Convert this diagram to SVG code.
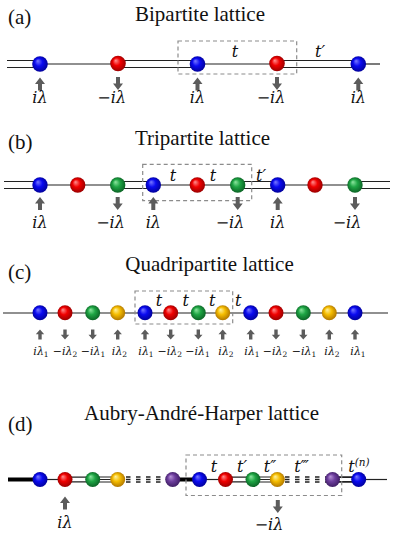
<svg xmlns="http://www.w3.org/2000/svg" xmlns:xlink="http://www.w3.org/1999/xlink" width="395" height="552" viewBox="0 0 395 552">
<style>
.title{font-family:"Liberation Serif",serif;font-size:21px;fill:#111;text-anchor:middle}
.plabel{font-family:"Liberation Serif",serif;font-size:21px;fill:#111}
.m{font-family:"DejaVu Serif",serif;font-style:italic;font-size:16px;fill:#111;text-anchor:middle}
.ms{font-family:"DejaVu Serif",serif;font-style:italic;font-size:11px;fill:#111;text-anchor:middle}
.sub{font-style:normal;font-size:7.5px}
.ln{stroke:#222;stroke-width:1.2;fill:none}
.thick{stroke:#000;stroke-width:4;fill:none}
.dsh{stroke:#222;stroke-width:1.3;fill:none;stroke-dasharray:4.5,5.5}
.box{fill:none;stroke:#8c8c8c;stroke-width:1.2;stroke-dasharray:4,3}
.arr{fill:#5c5c5c}
.b{fill:url(#gb)}.r{fill:url(#gr)}.g{fill:url(#gg)}.y{fill:url(#gy)}.p{fill:url(#gp)}
</style>
<defs>
<radialGradient id="gb" cx="0.5" cy="0.5" r="0.55" fx="0.35" fy="0.3"><stop offset="0" stop-color="#7a7aff"/><stop offset="0.45" stop-color="#0a0af0"/><stop offset="1" stop-color="#000090"/></radialGradient>
<radialGradient id="gr" cx="0.5" cy="0.5" r="0.55" fx="0.35" fy="0.3"><stop offset="0" stop-color="#ff9090"/><stop offset="0.45" stop-color="#f00000"/><stop offset="1" stop-color="#900000"/></radialGradient>
<radialGradient id="gg" cx="0.5" cy="0.5" r="0.55" fx="0.35" fy="0.3"><stop offset="0" stop-color="#8ee6a0"/><stop offset="0.45" stop-color="#1ea544"/><stop offset="1" stop-color="#0a5c22"/></radialGradient>
<radialGradient id="gy" cx="0.5" cy="0.5" r="0.55" fx="0.35" fy="0.3"><stop offset="0" stop-color="#fff2a0"/><stop offset="0.45" stop-color="#f5bd00"/><stop offset="1" stop-color="#a86e00"/></radialGradient>
<radialGradient id="gp" cx="0.5" cy="0.5" r="0.55" fx="0.35" fy="0.3"><stop offset="0" stop-color="#b895d8"/><stop offset="0.45" stop-color="#6e3f9e"/><stop offset="1" stop-color="#3a1a5e"/></radialGradient>
<path id="up" class="arr" d="M0,0 L5,6.5 L2,6.5 L2,13 L-2,13 L-2,6.5 L-5,6.5 Z"/>
<path id="dn" class="arr" d="M0,13 L5,6.5 L2,6.5 L2,0 L-2,0 L-2,6.5 L-5,6.5 Z"/>
<path id="ups" class="arr" d="M0,0 L4.2,4.8 L1.7,4.8 L1.7,10 L-1.7,10 L-1.7,4.8 L-4.2,4.8 Z"/>
<path id="dns" class="arr" d="M0,10 L4.2,5.2 L1.7,5.2 L1.7,0 L-1.7,0 L-1.7,5.2 L-4.2,5.2 Z"/>
</defs>
<rect width="395" height="552" fill="#fff"/>

<!-- Titles -->
<text class="plabel" x="8" y="24">(a)</text>
<text class="title" x="200" y="21">Bipartite lattice</text>
<text class="plabel" x="8" y="149">(b)</text>
<text class="title" x="202.5" y="145">Tripartite lattice</text>
<text class="plabel" x="8" y="279">(c)</text>
<text class="title" x="209.5" y="271">Quadripartite lattice</text>
<text class="plabel" x="8" y="431">(d)</text>
<text class="title" x="201.5" y="420">Aubry-André-Harper lattice</text>

<!-- Connectors -->
<g id="connectors">
 <!-- (a) -->
 <path class="ln" d="M7,60.5H40M7,67.5H40"/>
 <path class="ln" d="M40,64H118"/>
 <path class="ln" d="M118,60.5H198M118,67.5H198"/>
 <path class="ln" d="M198,64H277"/>
 <path class="ln" d="M277,60.5H358M277,67.5H358"/>
 <path class="ln" d="M358,64H380"/>
 <!-- (b) -->
 <path class="ln" d="M4,181.5H40M4,188.5H40"/>
 <path class="ln" d="M40,185H118"/>
 <path class="ln" d="M118,181.5H153M118,188.5H153"/>
 <path class="ln" d="M153,185H238"/>
 <path class="ln" d="M238,181.5H278M238,188.5H278"/>
 <path class="ln" d="M278,185H355"/>
 <path class="ln" d="M355,181.5H390M355,188.5H390"/>
 <!-- (c) -->
 <path class="ln" d="M3,313H388"/>
 <!-- (d) -->
 <path class="thick" d="M8,479.5H40"/>
 <path class="ln" d="M40,479.5H65"/>
 <path class="ln" d="M65,477.2H93M65,481.8H93"/>
 <path class="ln" style="stroke-width:1" d="M93,477H118M93,479.5H118M93,482H118"/>
 <path class="dsh" d="M126,477H168M126,479.5H168M126,482H168"/>
 <path class="thick" d="M173,479.5H199"/>
 <path class="ln" d="M199,479.5H225"/>
 <path class="ln" d="M225,477.2H253M225,481.8H253"/>
 <path class="ln" style="stroke-width:1" d="M253,477H277M253,479.5H277M253,482H277"/>
 <path class="dsh" d="M285,477H327M285,479.5H327M285,482H327"/>
 <path class="ln" style="stroke-width:1.8" d="M333,477.2H359M333,481.8H359"/>
 <path class="ln" d="M359,479.5H387"/>
</g>

<!-- Unit-cell boxes -->
<rect class="box" x="178" y="41" width="118.7" height="33"/>
<rect class="box" x="142.7" y="164.3" width="109" height="36.4"/>
<rect class="box" x="135" y="291" width="97.7" height="33"/>
<rect class="box" x="186" y="455" width="155.7" height="40.5"/>

<!-- Nodes (a) -->
<g id="a-n1"><circle class="b" cx="40" cy="64" r="7.8"/></g>
<g id="a-n2"><circle class="r" cx="118" cy="63.5" r="7.8"/></g>
<g id="a-n3"><circle class="b" cx="197.5" cy="64" r="7.8"/></g>
<g id="a-n4"><circle class="r" cx="277" cy="63.5" r="7.8"/></g>
<g id="a-n5"><circle class="b" cx="358.3" cy="64" r="7.8"/></g>
<!-- Nodes (b) -->
<g id="b-n1"><circle class="b" cx="40" cy="185" r="7.7"/></g>
<g id="b-n2"><circle class="r" cx="77.7" cy="185" r="7.7"/></g>
<g id="b-n3"><circle class="g" cx="117.7" cy="185" r="7.7"/></g>
<g id="b-n4"><circle class="b" cx="153.3" cy="185" r="7.7"/></g>
<g id="b-n5"><circle class="r" cx="197.3" cy="185" r="7.7"/></g>
<g id="b-n6"><circle class="g" cx="237.7" cy="185" r="7.7"/></g>
<g id="b-n7"><circle class="b" cx="277.7" cy="185" r="7.7"/></g>
<g id="b-n8"><circle class="r" cx="315" cy="185" r="7.7"/></g>
<g id="b-n9"><circle class="g" cx="355" cy="185" r="7.7"/></g>
<!-- Nodes (c) -->
<g id="c-n1"><circle class="b" cx="40" cy="312.7" r="7.5"/></g>
<g id="c-n2"><circle class="r" cx="65" cy="312.7" r="7.5"/></g>
<g id="c-n3"><circle class="g" cx="92.7" cy="312.7" r="7.5"/></g>
<g id="c-n4"><circle class="y" cx="117.7" cy="312.7" r="7.5"/></g>
<g id="c-n5"><circle class="b" cx="145" cy="312.7" r="7.5"/></g>
<g id="c-n6"><circle class="r" cx="170.7" cy="312.7" r="7.5"/></g>
<g id="c-n7"><circle class="g" cx="198.3" cy="312.7" r="7.5"/></g>
<g id="c-n8"><circle class="y" cx="222.7" cy="312.7" r="7.5"/></g>
<g id="c-n9"><circle class="b" cx="250.7" cy="312.7" r="7.5"/></g>
<g id="c-n10"><circle class="r" cx="276" cy="312.7" r="7.5"/></g>
<g id="c-n11"><circle class="g" cx="303.3" cy="312.7" r="7.5"/></g>
<g id="c-n12"><circle class="y" cx="329.3" cy="312.7" r="7.5"/></g>
<g id="c-n13"><circle class="b" cx="355" cy="312.7" r="7.5"/></g>
<!-- Nodes (d) -->
<g id="d-n1"><circle class="b" cx="40" cy="479.5" r="7.5"/></g>
<g id="d-n2"><circle class="r" cx="65" cy="479.5" r="7.5"/></g>
<g id="d-n3"><circle class="g" cx="92.7" cy="479.5" r="7.5"/></g>
<g id="d-n4"><circle class="y" cx="117.7" cy="479.5" r="7.5"/></g>
<g id="d-n5"><circle class="p" cx="172.7" cy="479.5" r="7.5"/></g>
<g id="d-n6"><circle class="b" cx="199.5" cy="479.5" r="7.5"/></g>
<g id="d-n7"><circle class="r" cx="225.5" cy="479.5" r="7.5"/></g>
<g id="d-n8"><circle class="g" cx="253" cy="479.5" r="7.5"/></g>
<g id="d-n9"><circle class="y" cx="277.3" cy="479.5" r="7.5"/></g>
<g id="d-n10"><circle class="p" cx="332.5" cy="479.5" r="7.5"/></g>
<g id="d-n11"><circle class="b" cx="358.7" cy="479.5" r="7.5"/></g>

<!-- Gain/loss arrows -->
<g id="arrows">
 <use xlink:href="#up" x="40" y="77.5"/>
 <use xlink:href="#dn" x="118" y="77"/>
 <use xlink:href="#up" x="197.5" y="77.5"/>
 <use xlink:href="#dn" x="277" y="77"/>
 <use xlink:href="#up" x="358.3" y="77.5"/>

 <use xlink:href="#up" x="40" y="197"/>
 <use xlink:href="#dn" x="117.7" y="197"/>
 <use xlink:href="#up" x="153.3" y="197"/>
 <use xlink:href="#dn" x="237.7" y="197"/>
 <use xlink:href="#up" x="277.7" y="197"/>
 <use xlink:href="#dn" x="355" y="197"/>

 <use xlink:href="#ups" x="40" y="329.5"/>
 <use xlink:href="#dns" x="65" y="329.5"/>
 <use xlink:href="#dns" x="92.7" y="329.5"/>
 <use xlink:href="#ups" x="117.7" y="329.5"/>
 <use xlink:href="#ups" x="145" y="329.5"/>
 <use xlink:href="#dns" x="170.7" y="329.5"/>
 <use xlink:href="#dns" x="198.3" y="329.5"/>
 <use xlink:href="#ups" x="222.7" y="329.5"/>
 <use xlink:href="#ups" x="250.7" y="329.5"/>
 <use xlink:href="#dns" x="276" y="329.5"/>
 <use xlink:href="#dns" x="303.3" y="329.5"/>
 <use xlink:href="#ups" x="329.3" y="329.5"/>
 <use xlink:href="#ups" x="355" y="329.5"/>

 <use xlink:href="#up" x="65" y="496.5"/>
 <use xlink:href="#dn" x="277.8" y="500"/>
</g>

<!-- Labels -->
<g id="labels">
 <!-- (a) -->
 <text class="m" x="235" y="57">t</text>
 <text class="m" x="320" y="57">t′</text>
 <text class="m" x="40" y="102.5">iλ</text>
 <text class="m" x="111.7" y="102.5">−iλ</text>
 <text class="m" x="197.5" y="102.5">iλ</text>
 <text class="m" x="271" y="102.5">−iλ</text>
 <text class="m" x="358.3" y="102.5">iλ</text>
 <!-- (b) -->
 <text class="m" x="173" y="180.5">t</text>
 <text class="m" x="213" y="180.5">t</text>
 <text class="m" x="261" y="181">t′</text>
 <text class="m" x="40" y="228">iλ</text>
 <text class="m" x="110.5" y="228">−iλ</text>
 <text class="m" x="153.3" y="228">iλ</text>
 <text class="m" x="230" y="228">−iλ</text>
 <text class="m" x="277.7" y="228">iλ</text>
 <text class="m" x="347" y="228">−iλ</text>
 <!-- (c) -->
 <text class="m" x="159" y="306">t</text>
 <text class="m" x="185.7" y="306">t</text>
 <text class="m" x="212.3" y="306">t</text>
 <text class="m" x="238.3" y="306">t</text>
 <text class="ms" x="41" y="354.5">iλ<tspan class="sub" dy="2.5">1</tspan></text>
 <text class="ms" x="65" y="354.5">−iλ<tspan class="sub" dy="2.5">2</tspan></text>
 <text class="ms" x="93" y="354.5">−iλ<tspan class="sub" dy="2.5">1</tspan></text>
 <text class="ms" x="119.5" y="354.5">iλ<tspan class="sub" dy="2.5">2</tspan></text>
 <text class="ms" x="146" y="354.5">iλ<tspan class="sub" dy="2.5">1</tspan></text>
 <text class="ms" x="169.7" y="354.5">−iλ<tspan class="sub" dy="2.5">2</tspan></text>
 <text class="ms" x="197.5" y="354.5">−iλ<tspan class="sub" dy="2.5">1</tspan></text>
 <text class="ms" x="226" y="354.5">iλ<tspan class="sub" dy="2.5">2</tspan></text>
 <text class="ms" x="252" y="354.5">iλ<tspan class="sub" dy="2.5">1</tspan></text>
 <text class="ms" x="275" y="354.5">−iλ<tspan class="sub" dy="2.5">2</tspan></text>
 <text class="ms" x="304" y="354.5">−iλ<tspan class="sub" dy="2.5">1</tspan></text>
 <text class="ms" x="332" y="354.5">iλ<tspan class="sub" dy="2.5">2</tspan></text>
 <text class="ms" x="358" y="354.5">iλ<tspan class="sub" dy="2.5">1</tspan></text>
 <!-- (d) -->
 <text class="m" x="214" y="471.5">t</text>
 <text class="m" x="242" y="471.5">t′</text>
 <text class="m" x="270" y="471.5">t″</text>
 <text class="m" x="301.5" y="471.5">t‴</text>
 <text class="m" x="359" y="471.5">t<tspan font-size="10.5" dy="-6">(n)</tspan></text>
 <text class="m" x="65" y="527.5">iλ</text>
 <text class="m" x="269" y="529.5">−iλ</text>
</g>
</svg>
